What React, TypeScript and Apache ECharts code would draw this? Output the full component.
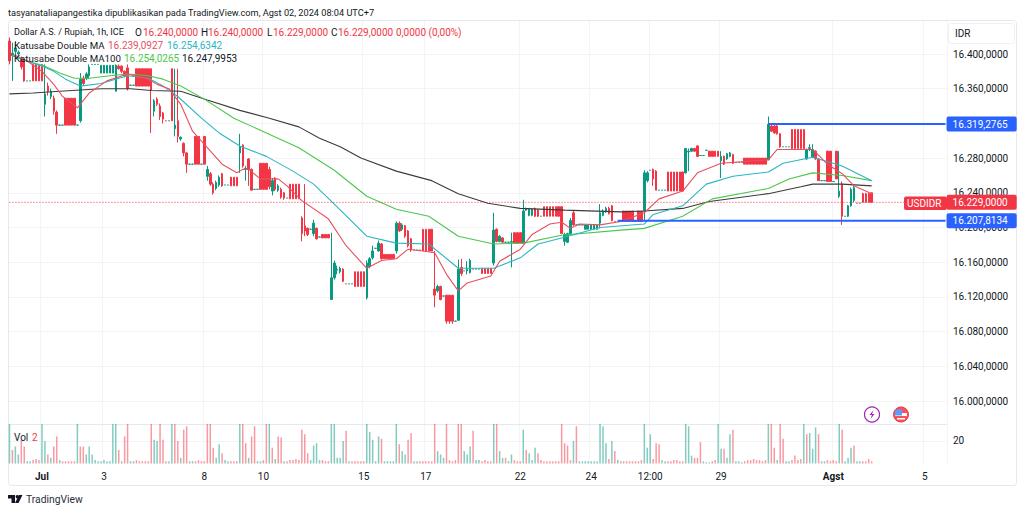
import React, { useEffect, useRef } from "react";
import * as echarts from "echarts";

// [open, close, low, high]
const candles: number[][] = [
[16415,16392,16388,16419],[16398,16401,16369,16413],[16403,16407,16395,16415],[16400,16402,16398,16404],[16394,16385,16382,16397],[16392,16369,16368,16395],[16369,16369,16369,16369],[16369,16369,16369,16369],[16388,16369,16369,16388],[16388,16369,16369,16388],
[16388,16369,16369,16388],[16388,16369,16369,16388],[16342,16354,16328,16388],[16363,16357,16352,16367],[16351,16357,16348,16360],[16349,16334,16330,16352],[16333,16318,16308,16335],[16318,16318,16318,16318],[16318,16318,16318,16318],[16349,16318,16318,16349],
[16349,16318,16318,16349],[16349,16318,16318,16349],[16349,16318,16318,16349],[16318,16318,16318,16318],[16323,16371,16321,16378],[16372,16366,16364,16375],[16372,16377,16370,16379],[16375,16385,16372,16388],[16388,16388,16388,16388],[16388,16388,16388,16388],
[16388,16388,16388,16388],[16378,16387,16378,16387],[16378,16387,16378,16387],[16378,16387,16378,16387],[16378,16387,16378,16387],[16378,16387,16378,16387],[16357,16387,16357,16388],[16386,16383,16382,16388],[16386,16380,16378,16387],[16380,16375,16373,16381],
[16384,16360,16358,16388],[16364,16364,16364,16364],[16364,16364,16364,16364],[16383,16363,16363,16383],[16383,16363,16363,16383],[16383,16363,16363,16383],[16383,16363,16363,16383],[16383,16363,16363,16383],[16383,16358,16309,16383],[16334,16346,16328,16348],
[16348,16342,16340,16350],[16340,16328,16324,16343],[16332,16325,16320,16333],[16323,16323,16323,16323],[16323,16323,16323,16323],[16383,16323,16323,16383],[16314,16318,16305,16383],[16323,16305,16298,16383],[16302,16304,16300,16305],[16297,16286,16282,16298],
[16286,16273,16263,16287],[16273,16273,16273,16273],[16273,16273,16273,16273],[16305,16273,16273,16305],[16305,16273,16273,16305],[16273,16273,16273,16273],[16305,16273,16273,16305],[16259,16267,16254,16271],[16262,16250,16248,16264],[16250,16240,16238,16252],
[16245,16252,16243,16254],[16249,16258,16247,16260],[16262,16248,16247,16263],[16249,16249,16249,16249],[16249,16249,16249,16249],[16258,16248,16248,16258],[16258,16248,16248,16258],[16258,16248,16248,16258],[16286,16293,16263,16308],[16295,16271,16269,16296],
[16267,16268,16254,16271],[16279,16267,16248,16280],[16267,16243,16243,16268],[16244,16244,16244,16244],[16244,16244,16244,16244],[16274,16244,16244,16274],[16274,16244,16244,16274],[16274,16244,16244,16274],[16267,16247,16244,16270],[16242,16254,16237,16257],
[16257,16244,16242,16258],[16243,16248,16241,16250],[16244,16235,16233,16246],[16240,16234,16232,16241],[16234,16234,16234,16234],[16250,16233,16233,16250],[16250,16233,16233,16250],[16250,16233,16233,16250],[16250,16233,16233,16250],[16211,16193,16184,16213],
[16202,16196,16190,16250],[16199,16192,16190,16200],[16198,16198,16198,16198],[16193,16205,16190,16209],[16199,16187,16186,16200],[16189,16189,16189,16189],[16192,16188,16188,16192],[16192,16188,16188,16192],[16192,16188,16188,16192],[16117,16142,16117,16194],
[16142,16159,16140,16162],[16151,16152,16146,16156],[16149,16153,16147,16155],[16152,16138,16137,16153],[16135,16135,16135,16135],[16135,16135,16135,16135],[16135,16135,16135,16135],[16149,16132,16132,16149],[16149,16132,16132,16149],[16149,16132,16132,16149],
[16149,16132,16132,16149],[16119,16159,16117,16162],[16155,16164,16153,16166],[16165,16173,16163,16179],[16176,16176,16176,16176],[16173,16182,16172,16185],[16181,16164,16163,16182],[16169,16164,16164,16169],[16169,16164,16164,16169],[16169,16164,16164,16169],
[16169,16164,16164,16169],[16173,16205,16170,16207],[16205,16196,16195,16207],[16198,16203,16196,16205],[16202,16190,16188,16203],[16196,16179,16177,16197],[16187,16174,16172,16188],[16174,16174,16174,16174],[16174,16174,16174,16174],[16174,16174,16174,16174],
[16198,16173,16173,16198],[16198,16173,16173,16198],[16198,16173,16173,16198],[16198,16173,16173,16198],[16129,16122,16108,16173],[16127,16132,16125,16134],[16132,16117,16116,16133],[16121,16121,16121,16121],[16122,16092,16089,16122],[16122,16092,16089,16122],
[16122,16092,16089,16122],[16092,16092,16092,16092],[16093,16152,16093,16163],[16154,16147,16144,16164],[16150,16150,16150,16150],[16150,16152,16146,16161],[16148,16162,16147,16164],[16152,16152,16152,16152],[16152,16152,16152,16152],[16152,16152,16152,16152],
[16153,16147,16147,16153],[16153,16147,16147,16153],[16153,16147,16147,16153],[16153,16147,16147,16153],[16159,16197,16156,16217],[16198,16184,16183,16199],[16184,16190,16183,16191],[16188,16183,16182,16189],[16183,16183,16183,16183],[16183,16183,16183,16183],
[16183,16184,16154,16194],[16194,16182,16182,16194],[16194,16182,16182,16194],[16194,16182,16182,16194],[16182,16219,16181,16232],[16220,16222,16219,16223],[16214,16221,16213,16222],[16214,16221,16213,16222],[16222,16213,16212,16223],[16220,16213,16212,16221],
[16213,16213,16213,16213],[16224,16213,16213,16224],[16224,16213,16213,16224],[16224,16213,16213,16224],[16224,16213,16213,16224],[16224,16213,16213,16224],[16224,16213,16213,16224],[16224,16193,16193,16224],[16184,16192,16179,16194],[16183,16193,16182,16194],
[16193,16208,16192,16211],[16217,16203,16202,16220],[16203,16203,16203,16203],[16203,16203,16203,16203],[16203,16203,16203,16203],[16198,16203,16198,16203],[16198,16203,16198,16203],[16198,16203,16198,16203],[16198,16203,16198,16203],[16198,16203,16198,16203],
[16205,16217,16199,16227],[16214,16219,16213,16221],[16218,16222,16217,16224],[16222,16216,16215,16224],[16225,16208,16207,16226],[16207,16207,16207,16207],[16207,16207,16207,16207],[16207,16207,16207,16207],[16219,16207,16207,16219],[16219,16207,16207,16219],
[16219,16207,16207,16219],[16219,16207,16207,16219],[16207,16207,16207,16207],[16219,16207,16207,16219],[16219,16207,16207,16219],[16219,16263,16207,16266],[16254,16263,16252,16265],[16266,16266,16266,16266],[16267,16256,16248,16268],[16265,16243,16243,16266],
[16243,16243,16243,16243],[16243,16243,16243,16243],[16243,16243,16243,16243],[16264,16242,16242,16264],[16264,16242,16242,16264],[16264,16242,16242,16264],[16264,16242,16242,16264],[16264,16242,16242,16264],[16264,16242,16242,16264],[16263,16291,16262,16291],
[16287,16288,16265,16291],[16288,16291,16287,16292],[16291,16288,16287,16292],[16294,16282,16281,16295],[16283,16283,16283,16283],[16283,16283,16283,16283],[16289,16289,16289,16289],[16288,16282,16282,16288],[16288,16282,16282,16288],[16288,16282,16282,16288],
[16288,16282,16282,16288],[16277,16282,16257,16288],[16282,16273,16272,16283],[16279,16285,16278,16286],[16282,16286,16281,16287],[16284,16274,16273,16285],[16275,16275,16275,16275],[16275,16275,16275,16275],[16275,16275,16275,16275],[16280,16273,16273,16280],
[16280,16273,16273,16280],[16280,16273,16273,16280],[16280,16273,16273,16280],[16280,16273,16273,16280],[16280,16273,16273,16280],[16280,16273,16273,16280],[16280,16273,16273,16280],[16278,16319,16278,16328],[16317,16311,16310,16319],[16317,16309,16308,16318],
[16317,16308,16307,16318],[16308,16293,16292,16309],[16293,16293,16293,16293],[16293,16293,16293,16293],[16293,16293,16293,16293],[16313,16291,16291,16313],[16313,16291,16291,16313],[16313,16291,16291,16313],[16313,16291,16291,16313],[16313,16291,16291,16313],
[16279,16290,16278,16291],[16291,16292,16288,16296],[16281,16290,16280,16296],[16288,16279,16278,16289],[16279,16254,16254,16280],[16254,16254,16254,16254],[16254,16254,16254,16254],[16288,16253,16253,16288],[16288,16253,16253,16288],[16253,16253,16253,16253],
[16288,16256,16256,16288],[16236,16242,16234,16288],[16250,16213,16203,16253],[16213,16213,16213,16213],[16213,16225,16212,16226],[16225,16244,16224,16246],[16231,16246,16229,16248],[16228,16228,16228,16228],[16228,16228,16228,16228],[16239,16229,16229,16240],
[16239,16229,16229,16240],[16239,16229,16229,16240],[16240,16229,16229,16240],
];

// volume per bar: the sign says which way the bar is coloured (+ up, - down)
const volumes = [
40,-12,15,8,-21,-15,2,2,-3,-4,
-3,40,20,-8,5,-15,-24,3,-2,-2,
-2,-2,-2,40,-15,-15,8,15,8,3,
2,2,3,2,2,40,40,-12,2,-24,
-40,2,2,-3,-2,-2,-2,-2,-40,21,
20,-40,-21,-2,2,40,-40,-20,5,-30,
-33,2,2,-2,-3,-2,-2,-40,-40,-14,
5,17,-9,3,2,-2,-2,-2,40,-40,
-18,5,-24,-33,2,2,-3,-40,40,-14,
4,-24,-23,2,-2,-3,-3,-4,-3,-30,
-26,-9,3,16,18,3,-3,-2,-2,40,
40,5,5,20,-29,2,-2,-2,-2,-2,
-2,40,28,21,2,24,-22,2,2,2,
2,40,-17,11,8,-21,-27,2,2,-2,
-2,-2,-2,-2,-40,11,8,5,-40,-3,
-2,-3,-40,-40,11,8,15,-29,3,3,
-2,-3,-2,-2,40,-40,11,5,-5,2,
8,-3,-2,-2,30,-12,9,3,14,-9,
-3,-2,-2,-2,-2,-2,-2,-40,-18,-16,
-3,20,-33,2,2,2,2,2,2,2,
40,33,18,-4,20,-11,3,-2,2,-2,
-2,-2,-2,-2,-3,40,14,26,-4,-18,
-17,3,2,-2,-2,-3,-3,-2,-2,40,
33,7,-5,-5,-19,2,1,1,-2,-3,
40,13,-13,5,26,-30,2,2,1,-2,
-3,-3,-4,-3,-3,-2,-3,40,-40,-14,
3,-40,-22,2,2,-3,-7,-3,-4,40,
-26,27,13,32,-26,2,2,-3,-2,-3,
-2,40,-30,2,5,14,-16,2,2,-2,
-2,-4,-2,
];

const maRedAt = [1,6,11,15,18,23,27,33,40,47,50,54,58,62,67,72,77,79,81,85,91,94,99,108,114,121,126,131,135,140,144,148,152,155,163,166,173,177,183,187,190,193,200,207,215,220,228,233,241,257,260,269,272,277,282,286,292];
const maRedValues = [16400,16392,16380,16365,16351,16338,16355,16369,16377,16371,16365,16360,16342,16311,16292,16273,16263,16267,16267,16256,16256,16248,16231,16210,16179,16153,16162,16164,16175,16173,16171,16146,16127,16136,16144,16161,16175,16192,16204,16206,16199,16204,16203,16207,16217,16233,16242,16263,16274,16278,16290,16290,16290,16273,16262,16248,16239];
const maCyanAt = [1,4,11,15,19,24,31,40,47,52,57,65,71,78,87,96,103,110,121,131,142,152,164,173,179,187,200,215,218,228,236,245,257,262,272,282,292];
const maCyanValues = [16398,16394,16386,16380,16371,16363,16366,16375,16372,16363,16351,16326,16309,16294,16282,16265,16250,16227,16190,16182,16181,16153,16153,16165,16181,16188,16200,16204,16215,16225,16250,16259,16264,16274,16281,16271,16254];
const maGreenAt = [1,8,12,17,22,27,34,40,47,52,58,66,76,87,98,110,121,131,142,152,164,174,187,207,215,228,238,257,264,272,282,292];
const maGreenValues = [16398,16390,16386,16378,16372,16372,16375,16377,16375,16371,16363,16348,16326,16309,16292,16266,16236,16221,16213,16190,16181,16182,16191,16197,16199,16213,16233,16245,16256,16263,16260,16254];
const maBlackAt = [0,8,17,31,41,48,58,67,78,88,98,105,112,119,131,143,152,162,173,188,207,215,228,237,257,268,272,282,292];
const maBlackValues = [16354,16355,16357,16360,16360,16358,16357,16347,16335,16326,16316,16303,16293,16280,16265,16254,16239,16228,16222,16220,16218,16219,16222,16230,16239,16247,16250,16250,16248];

const tickAt = [11,32,66,86,120,141,173,197,217,241,279,310];
const tickLabels = ["Jul","3","8","10","15","17","22","24","12:00","29","Agst","5"];
const boldTicks = ["Jul","Agst"];

const barSlots = 318;
const lastSlot = barSlots - 1;
const upperLevel = { from: 257, value: 16319.2765 };
const lowerLevel = { from: 206, value: 16207.8134 };
const lastPrice = 16229;

const UP = "#089981", DOWN = "#F23645", BLUE = "#2962FF", GRID = "#F3F4F8", INK = "#131722", FONT = "Roboto";

const price = (v: number) => {
  const [a, b] = v.toFixed(4).split(".");
  return a.replace(/\B(?=(\d{3})+$)/g, ".") + "," + b;
};
const zip = (a: number[], b: number[]) => a.map((x, i) => [x, b[i]]);
const categories = Array.from({ length: barSlots }, (_, i) => {
  const k = tickAt.indexOf(i);
  return k >= 0 ? tickLabels[k] : "";
});
const isTick = (i: number) => tickAt.includes(i);

const txt = (x: number, y: number, text: string, fill = INK, size = 10, extra: any = {}) => ({
  type: "text", x, y, z: 50, silent: true,
  style: { text, fill, font: `${size}px ${FONT}`, textVerticalAlign: "middle", ...extra },
});

const maLine = (name: string, color: string, at: number[], values: number[]) => ({
  type: "line", name, data: zip(at, values), xAxisIndex: 0, yAxisIndex: 0, symbol: "none",
  showSymbol: false, lineStyle: { color, width: 1.1 }, z: 4, silent: true,
});

const levelLine = (from: number, value: number, color: string, width: number, type: any, tag: string) => ({
  type: "line", data: [[from, value], [lastSlot, value]], xAxisIndex: 0, yAxisIndex: 0, symbol: "none",
  lineStyle: { color, width, type }, z: 5, silent: true,
  endLabel: {
    show: true, formatter: () => tag, distance: 1, color: "#fff", backgroundColor: color === BLUE ? BLUE : DOWN,
    padding: [2, 9, 2, 6], borderRadius: 2, fontFamily: FONT, fontSize: 10, lineHeight: 11,
  },
});

export default function App() {
  const ref = useRef<HTMLDivElement>(null);
  useEffect(() => {
    document.body.style.margin = "0";
    const chart = echarts.init(ref.current!, undefined, { renderer: "svg" });
    chart.setOption({
      animation: false,
      backgroundColor: "#fff",
      grid: [
        { left: 8, right: 77, top: 19.3, height: 416.4 },
        { left: 8, right: 77, top: 424, height: 39.5 },
      ],
      xAxis: [0, 1].map((g) => ({
        type: "category", gridIndex: g, data: categories, boundaryGap: true,
        axisLine: { show: false }, axisTick: { show: false },
        splitLine: { show: true, interval: (i: number) => isTick(i), lineStyle: { color: GRID, width: 1 } },
        axisLabel: g === 0 ? { show: false } : {
          show: true, interval: (i: number) => isTick(i), margin: 8, hideOverlap: false,
          fontFamily: FONT, fontSize: 10, color: INK,
          formatter: (v: string) => (boldTicks.includes(v) ? `{b|${v}}` : v),
          rich: { b: { fontWeight: "bold", fontFamily: FONT, fontSize: 10, color: INK } },
        },
      })),
      yAxis: [
        {
          type: "value", gridIndex: 0, position: "right", min: 15960, max: 16440, interval: 40, scale: true,
          axisLine: { show: false }, axisTick: { show: false },
          splitLine: { show: true, showMinLine: false, showMaxLine: false, lineStyle: { color: GRID, width: 1 } },
          axisLabel: { margin: 6, showMinLabel: false, showMaxLabel: false, fontFamily: FONT, fontSize: 10, color: INK, formatter: (v: number) => price(v) },
        },
        {
          type: "value", gridIndex: 1, position: "right", min: 0, max: 35, interval: 20,
          axisLine: { show: false }, axisTick: { show: false },
          splitLine: { show: true, showMinLine: false, showMaxLine: false, lineStyle: { color: GRID, width: 1 } },
          axisLabel: { margin: 6, showMinLabel: false, showMaxLabel: false, fontFamily: FONT, fontSize: 10, color: INK },
        },
      ],
      series: [
        {
          type: "candlestick", xAxisIndex: 0, yAxisIndex: 0, data: candles, barWidth: 2, z: 3, silent: true,
          itemStyle: { color: UP, color0: DOWN, borderColor: UP, borderColor0: DOWN, borderWidth: 1 },
        },
        maLine("ma100", "#3B3B3B", maBlackAt, maBlackValues),
        maLine("maGreen", "#4CC74C", maGreenAt, maGreenValues),
        maLine("maCyan", "#2BB5C4", maCyanAt, maCyanValues),
        maLine("maRed", "#E8505F", maRedAt, maRedValues),
        levelLine(upperLevel.from, upperLevel.value, BLUE, 2, "solid", price(upperLevel.value)),
        levelLine(lowerLevel.from, lowerLevel.value, BLUE, 2, "solid", price(lowerLevel.value)),
        levelLine(0, lastPrice, DOWN, 1, [1, 2], price(lastPrice)),
        {
          type: "bar", xAxisIndex: 1, yAxisIndex: 1, barWidth: 1.5, silent: true,
          data: volumes.map((v) => ({
            value: Math.abs(v),
            itemStyle: { color: v > 0 ? "rgba(8,153,129,0.5)" : "rgba(242,54,69,0.5)" },
          })),
        },
      ],
      graphic: [
        { type: "rect", z: 1, silent: true, shape: { x: 8.5, y: 20.5, width: 1008, height: 465, r: 3 }, style: { fill: "none", stroke: "#E6E8EE", lineWidth: 1 } },
        { type: "line", z: 1, silent: true, shape: { x1: 8, y1: 424.5, x2: 947, y2: 424.5 }, style: { stroke: "#E6E8EE", lineWidth: 1 } },
        { type: "rect", z: 40, silent: true, shape: { x: 948.5, y: 23.5, width: 66, height: 20, r: 3 }, style: { fill: "#fff", stroke: "#EEF0F4", lineWidth: 1 } },
        txt(955, 33, "IDR"),
        txt(8, 12, "tasyanataliapangestika dipublikasikan pada TradingView.com, Agst 02, 2024 08:04 UTC+7", INK, 9.2),
        txt(14, 32, "Dollar A.S. / Rupiah, 1h, ICE", INK, 9.1),
        txt(135, 32, "O"), txt(143, 32, "16.240,0000", DOWN),
        txt(201, 32, "H"), txt(208, 32, "16.240,0000", DOWN),
        txt(267, 32, "L"), txt(273, 32, "16.229,0000", DOWN),
        txt(331, 32, "C"), txt(338, 32, "16.229,0000", DOWN),
        txt(396, 32, "0,0000 (0,00%)", DOWN),
        txt(14, 45, "Katusabe Double MA", INK, 9.7),
        txt(108, 45, "16.239,0927", "#E8505F"), txt(167, 45, "16.254,6342", "#2BB5C4"),
        txt(14, 58, "Katusabe Double MA100", INK, 9.7),
        txt(124, 58, "16.254,0265", "#4CC74C"), txt(182, 58, "16.247,9953", INK),
        txt(14, 437, "Vol"), txt(32, 437, "2", DOWN),
        { type: "rect", z: 45, silent: true, shape: { x: 904, y: 196.5, width: 43, height: 13.5, r: 2 }, style: { fill: DOWN } },
        txt(907, 203.5, "USDIDR", "#fff"),
        // event markers
        { type: "circle", z: 45, silent: true, shape: { cx: 872, cy: 414.5, r: 7.5 }, style: { fill: "#fff", stroke: "#9C27B0", lineWidth: 1.2 } },
        { type: "polygon", z: 46, silent: true, shape: { points: [[873.5, 410], [869.5, 415], [872, 415], [870.5, 419], [874.5, 414], [872, 414]] }, style: { fill: "#9C27B0" } },
        { type: "circle", z: 45, silent: true, shape: { cx: 901, cy: 414.5, r: 7.5 }, style: { fill: "#F7525F", stroke: "#F23645", lineWidth: 1 } },
        { type: "rect", z: 46, silent: true, shape: { x: 895, y: 413, width: 12, height: 3 }, style: { fill: "#fff" } },
        { type: "rect", z: 46, silent: true, shape: { x: 897, y: 418, width: 8, height: 1.5 }, style: { fill: "#fff" } },
        { type: "rect", z: 47, silent: true, shape: { x: 895, y: 409.5, width: 7, height: 6 }, style: { fill: "#5B9CF6" } },
        // TradingView mark
        { type: "polygon", z: 45, silent: true, shape: { points: [[8, 495], [15, 495], [15, 503], [11.5, 503], [11.5, 498.5], [8, 498.5]] }, style: { fill: INK } },
        { type: "circle", z: 45, silent: true, shape: { cx: 17.3, cy: 496.7, r: 1.7 }, style: { fill: INK } },
        { type: "polygon", z: 45, silent: true, shape: { points: [[19, 495], [22.5, 495], [18.5, 503], [15, 503]] }, style: { fill: INK } },
        txt(26, 499, "TradingView", "#2A2E39", 10.3),
      ],
    });
    return () => chart.dispose();
  }, []);
  return <div ref={ref} style={{ position: "fixed", left: 0, top: 0, width: 1024, height: 512 }} />;
}
